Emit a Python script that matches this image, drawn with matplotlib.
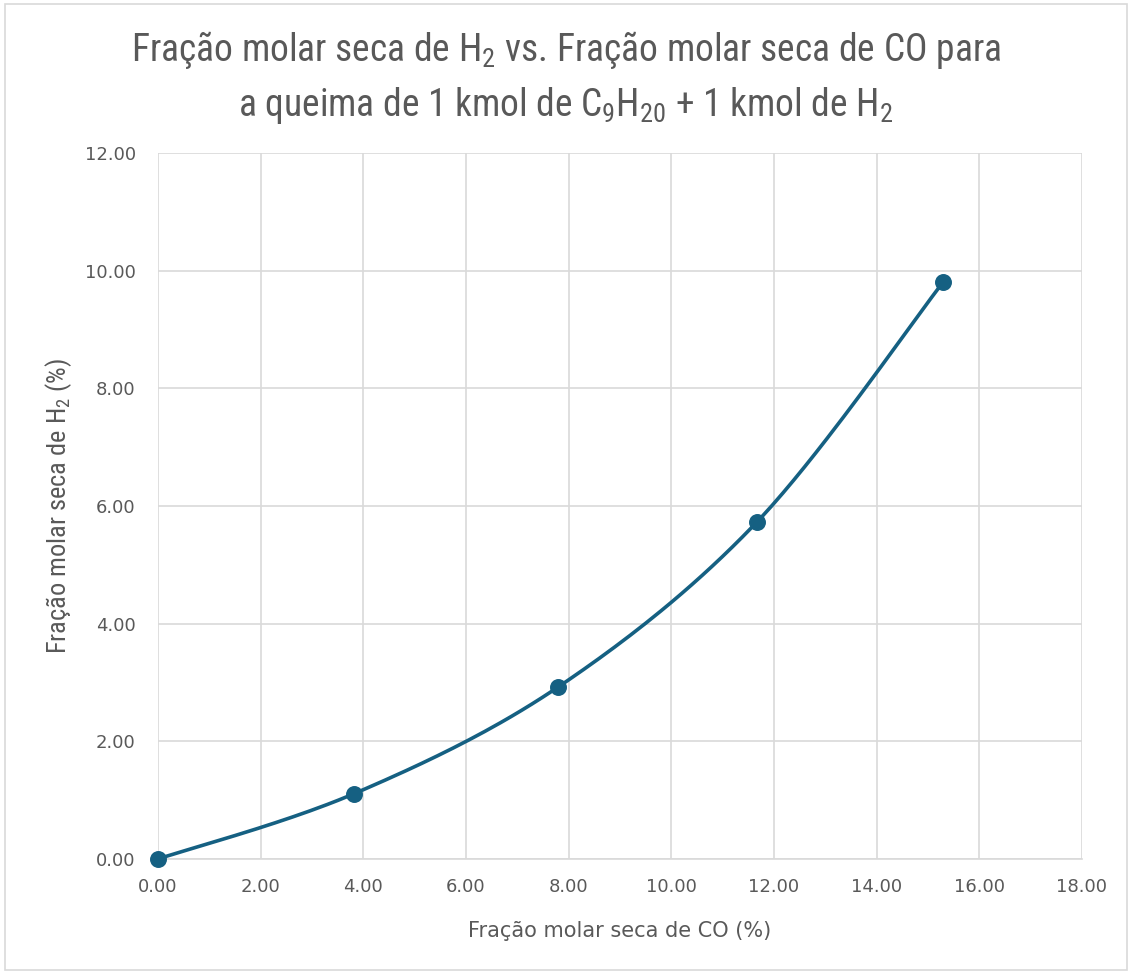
import numpy as np
import matplotlib.pyplot as plt
from matplotlib import font_manager
from matplotlib.patches import Rectangle

# data
co_frac = [0.0, 3.82, 7.79, 11.67, 15.29]
h2_frac = [0.0, 1.11, 2.92, 5.73, 9.80]

x_ticks = np.arange(0, 20, 2)
y_ticks = np.arange(0, 14, 2)

LINE_COLOR = '#156082'
TEXT_COLOR = '#595959'
GRID_COLOR = '#d9d9d9'


def smooth_curve(xs, ys, n=40):
    # Excel-like smoothed line: cubic Bezier segments through each point
    pts = np.column_stack([xs, ys]).astype(float)
    padded = np.vstack([pts[0], pts, pts[-1]])
    out = []
    t = np.linspace(0, 1, n)[:, None]
    for i in range(len(pts) - 1):
        p0, p1, p2, p3 = padded[i], padded[i + 1], padded[i + 2], padded[i + 3]
        c1 = p1 + (p2 - p0) / 6.0
        c2 = p2 - (p3 - p1) / 6.0
        seg = ((1 - t) ** 3) * p1 + 3 * ((1 - t) ** 2) * t * c1 \
            + 3 * (1 - t) * t ** 2 * c2 + t ** 3 * p2
        out.append(seg)
    curve = np.vstack(out)
    return curve[:, 0], curve[:, 1]


def narrow_font():
    # look for a condensed face; fall back to DejaVu Sans at a smaller size
    names = {f.name for f in font_manager.fontManager.ttflist}
    for cand in ['Liberation Sans Narrow', 'DejaVu Sans Condensed', 'Roboto Condensed',
                 'Open Sans Condensed', 'Noto Sans Condensed']:
        if cand in names:
            return cand, 1.0
    return 'DejaVu Sans', 0.8


def main():
    fam, scale = narrow_font()
    narrow = [fam, 'DejaVu Sans']
    # subscripts in the same narrow face
    plt.rcParams['mathtext.fontset'] = 'custom'
    plt.rcParams['mathtext.rm'] = fam
    plt.rcParams['mathtext.it'] = fam
    plt.rcParams['mathtext.default'] = 'regular'

    fig = plt.figure(figsize=(11.32, 9.74), dpi=100)
    fig.patches.append(Rectangle((0.004, 0.004), 0.992, 0.992, transform=fig.transFigure,
                                 fill=False, edgecolor='#d9d9d9', linewidth=1.2))
    ax = fig.add_axes([0.1396, 0.1181, 0.8162, 0.7248])

    sx, sy = smooth_curve(co_frac, h2_frac)
    ax.plot(sx, sy, color=LINE_COLOR, linewidth=2.6, zorder=3, solid_capstyle='round')
    ax.scatter(co_frac, h2_frac, s=125, color=LINE_COLOR, zorder=4, clip_on=False)

    ax.set_xlim(0, 18)
    ax.set_ylim(0, 12)
    ax.set_xticks(x_ticks)
    ax.set_yticks(y_ticks)
    ax.set_xticklabels([f'{v:.2f}' for v in x_ticks])
    ax.set_yticklabels([f'{v:.2f}' for v in y_ticks])
    ax.tick_params(length=0, labelsize=13, labelcolor=TEXT_COLOR)
    ax.tick_params(axis='x', pad=14)
    ax.tick_params(axis='y', pad=16)

    ax.grid(True, color=GRID_COLOR, linewidth=1.2, zorder=0)
    for side in ['top', 'right', 'left']:
        ax.spines[side].set_visible(False)
    ax.spines['bottom'].set_color(GRID_COLOR)
    ax.spines['bottom'].set_linewidth(1.2)

    ax.set_xlabel('Fração molar seca de CO (%)', fontsize=15, color=TEXT_COLOR, labelpad=18)
    ax.set_ylabel('Fração molar seca de H$_2$ (%)', fontsize=19 * scale, color=TEXT_COLOR,
                  family=narrow, labelpad=8)
    fig.text(0.5, 0.920,
             'Fração molar seca de H$_2$ vs. Fração molar seca de CO para\n'
             'a queima de 1 kmol de C$_9$H$_{20}$ + 1 kmol de H$_2$',
             ha='center', va='center', fontsize=27 * scale, color=TEXT_COLOR,
             family=narrow, linespacing=1.45)

    fig.savefig('out.png', dpi=100)


if __name__ == '__main__':
    main()
